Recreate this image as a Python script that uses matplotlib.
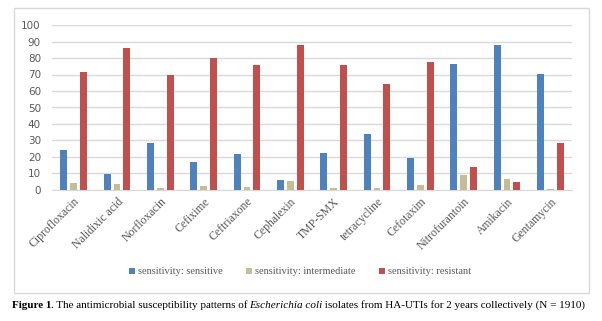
import numpy as np
import matplotlib
matplotlib.use("Agg")
import matplotlib.pyplot as plt
import matplotlib.patches as patches

antibiotics = ["Ciprofloxacin", "Nalidixic acid", "Norfloxacin", "Cefixime", "Ceftriaxone",
               "Cephalexin", "TMP-SMX", "tetracycline", "Cefotaxim", "Nitrofurantoin",
               "Amikacin", "Gentamycin"]
sensitive = [24.2, 9.9, 28.7, 17.0, 21.8, 6.1, 22.4, 33.9, 19.4, 76.4, 87.9, 70.3]
intermediate = [4.4, 3.8, 1.4, 2.6, 1.8, 5.5, 1.2, 1.2, 3.0, 9.1, 6.7, 0.6]
resistant = [71.7, 86.3, 69.7, 80.0, 75.8, 87.9, 75.8, 64.2, 77.6, 13.9, 4.8, 28.5]
series_names = ["sensitivity: sensitive", "sensitivity: intermediate", "sensitivity: resistant"]
colors = ["#4F81BD", "#C4BD97", "#C0504D"]
yticks = list(range(0, 101, 10))

W, H = 602, 321
fig = plt.figure(figsize=(W / 100, H / 100), dpi=100)

# chart frame, kept behind the axes
fig.patches.append(patches.Rectangle((14 / W, 1 - 293 / H), 575 / W, 285 / H,
                                     transform=fig.transFigure, facecolor="white",
                                     edgecolor="#D9D9D9", linewidth=1, zorder=-5))

ax = fig.add_axes([52 / W, 1 - 190 / H, 520 / W, 165 / H])
ax.set_facecolor("none")

x = np.arange(len(antibiotics))
width = 0.16
step = 0.225
for i, (vals, name, c) in enumerate(zip([sensitive, intermediate, resistant], series_names, colors)):
    ax.bar(x + (i - 1) * step, vals, width, color=c, label=name, zorder=3)

ax.set_xlim(-0.5, len(antibiotics) - 0.5)
ax.set_ylim(0, 100)
ax.set_yticks(yticks)
ax.yaxis.grid(True, color="#D9D9D9", linewidth=1, zorder=0)
ax.set_axisbelow(True)
for s in ["top", "right", "left"]:
    ax.spines[s].set_visible(False)
ax.spines["bottom"].set_color("#D9D9D9")
ax.tick_params(axis="both", length=0)
ax.tick_params(axis="y", labelsize=7.5, labelcolor="#595959", pad=8)
ax.set_xticks(x)
ax.set_xticklabels(antibiotics, rotation=45, ha="right", rotation_mode="anchor",
                   fontfamily="Liberation Serif", fontsize=8.5, color="#595959")
ax.tick_params(axis="x", pad=4)

leg = fig.legend(loc="center", bbox_to_anchor=(300 / W, 1 - 272 / H), ncol=3, frameon=False,
                 prop={"family": "Liberation Serif", "size": 7.5}, handlelength=0.6,
                 handleheight=0.6, handletextpad=0.3, columnspacing=2.2)
for t in leg.get_texts():
    t.set_color("#595959")

# caption, drawn piece by piece so the fonts can change mid-line
pieces = [("Figure 1", "bold", "normal"),
          (". The antimicrobial susceptibility patterns of ", "normal", "normal"),
          ("Escherichia coli", "normal", "italic"),
          (" isolates from HA-UTIs for 2 years collectively (N = 1910)", "normal", "normal")]
fig.canvas.draw()
renderer = fig.canvas.get_renderer()
xpos = 12 / W
for txt, weight, style in pieces:
    t = fig.text(xpos, 1 - 305 / H, txt, fontfamily="Liberation Serif", fontsize=8,
                 fontweight=weight, fontstyle=style, va="center", ha="left", color="black")
    bb = t.get_window_extent(renderer=renderer)
    xpos += (bb.width - 0.6) / W

fig.savefig("out.png", dpi=100)
